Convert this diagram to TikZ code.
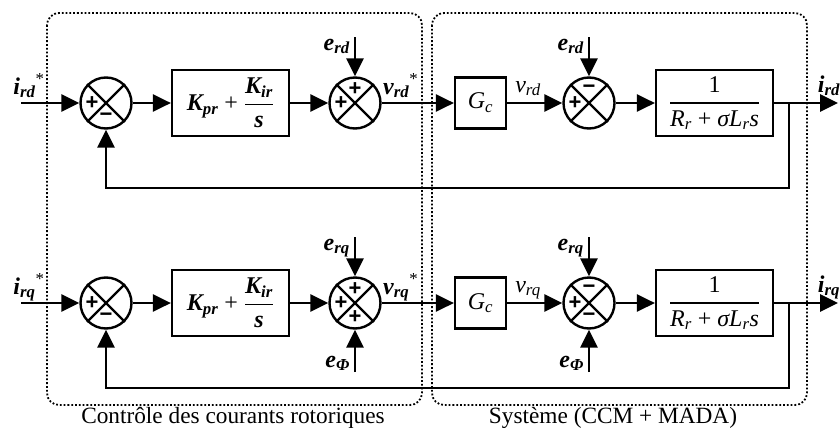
\documentclass[tikz,border=0pt]{standalone}
\usepackage{fontspec}
\setmainfont{Liberation Serif}
\newfontfamily\signfont{Liberation Sans}
\usetikzlibrary{arrows.meta}
\newcommand\bi{\bfseries\itshape}
\newcommand\myfr[2]{$\displaystyle{\hbox{#1}\above1.6pt\hbox{#2}}$}
\begin{document}
\begin{tikzpicture}[x=1pt,y=-1pt,
  wire/.style={line width=2.8pt,-{Triangle[length=18pt,width=17pt]}},
  blk/.style={draw,line width=2.2pt,inner sep=0pt,font=\fontsize{24}{26}\selectfont},
  sumc/.style={draw,circle,line width=2.4pt,minimum size=51pt,inner sep=0pt},
  xline/.style={line width=2.4pt},
  lbl/.style={font=\fontsize{24}{26}\selectfont,inner sep=0pt},
  sg/.style={font=\signfont\bfseries\fontsize{22}{22}\selectfont,inner sep=0pt},
  frame/.style={draw,dotted,line width=1.8pt,rounded corners=12pt},
  captext/.style={font=\fontsize{23.3}{26}\selectfont,inner sep=0pt}
]
\useasboundingbox (0,0) rectangle (840,439);
% frames
\draw[frame] (47,13) rectangle (422,405);
\draw[frame] (432,13) rectangle (807,405);
\node[captext] (cap1) at (233,418) {Contrôle des courants rotoriques};
\node[captext] (cap2) at (613,418) {Système (CCM + MADA)};

\foreach \r/\yy/\sub in {d/103/rd, q/303/rq}{
  \coordinate (in\r) at (21,\yy);
  \node[sumc] (s1\r) at (106,\yy) {};
  \node[blk,minimum width=117pt,minimum height=66pt] (pi\r) at (230.5,\yy)
     {{\bi K\textsubscript{pr}} + \myfr{\bi K\textsubscript{ir}}{\bi s}};
  \node[sumc] (s2\r) at (355,\yy) {};
  \node[blk,minimum width=51pt,minimum height=51pt] (gc\r) at (480.5,\yy)
     {\itshape G\textsubscript{c}};
  \node[sumc] (s3\r) at (589,\yy) {};
  \node[blk,minimum width=117pt,minimum height=66pt] (tf\r) at (714.5,\yy)
     {\myfr{1}{\itshape R\textsubscript{r} \upshape+ \itshape σL\textsubscript{r}s}};
  \coordinate (br\r) at (789,\yy);
  \coordinate (out\r) at (838,\yy);
  \coordinate (fb\r) at (789,\yy+85);
  \coordinate (fc\r) at (106,\yy+85);
  \coordinate (e1\r) at (355,\yy-66);
  \coordinate (e2\r) at (589,\yy-66);
  % X in circles
  \foreach \s in {s1\r,s2\r,s3\r}{
    \draw[xline] (\s.north west) -- (\s.south east);
    \draw[xline] (\s.north east) -- (\s.south west);
    \path (\s) ++(-14,0) node[sg] {+};
  }
  \path (s1\r) ++(0,14) node[sg] {−};
  \path (s2\r) ++(0,-14) node[sg] {+};
  \path (s3\r) ++(0,-14) node[sg] {−};
  % connectors
  \draw[wire] (in\r) -- (s1\r);
  \draw[wire] (s1\r) -- (pi\r);
  \draw[wire] (pi\r) -- (s2\r);
  \draw[wire] (s2\r) -- (gc\r);
  \draw[wire] (gc\r) -- (s3\r);
  \draw[wire] (s3\r) -- (tf\r);
  \draw[wire] (tf\r) -- (out\r);
  \draw[wire] (br\r) -- (fb\r) -- (fc\r) -- (s1\r);
  \draw[wire] (e1\r) -- (s2\r);
  \draw[wire] (e2\r) -- (s3\r);
  % labels
  \node[lbl,anchor=base] at (29,\yy-9) {\bi i\textsubscript{\sub}\textsuperscript{\mdseries\upshape *}};
  \node[lbl,anchor=base west] at (383,\yy-9) {\bi v\textsubscript{\sub}\textsuperscript{\mdseries\upshape *}};
  \node[lbl,anchor=base] at (528,\yy-11) {\itshape v\textsubscript{\sub}};
  \node[lbl,anchor=base] at (829,\yy-11) {\bi i\textsubscript{\sub}};
  \node[lbl,anchor=base east] at (350,\yy-53) {\bi e\textsubscript{\sub}};
  \node[lbl,anchor=base east] at (584,\yy-53) {\bi e\textsubscript{\sub}};
}
% e_Phi inputs (bottom row)
\coordinate (ep1) at (355,372);
\coordinate (ep2) at (589,372);
\draw[wire] (ep1) -- (s2q);
\draw[wire] (ep2) -- (s3q);
\path (s2q) ++(0,14) node[sg] {+};
\path (s3q) ++(0,14) node[sg] {−};
\node[lbl,anchor=base east] at (350,367) {\bi e\textsubscript{Φ}};
\node[lbl,anchor=base east] at (584,367) {\bi e\textsubscript{Φ}};
\end{tikzpicture}
\end{document}
